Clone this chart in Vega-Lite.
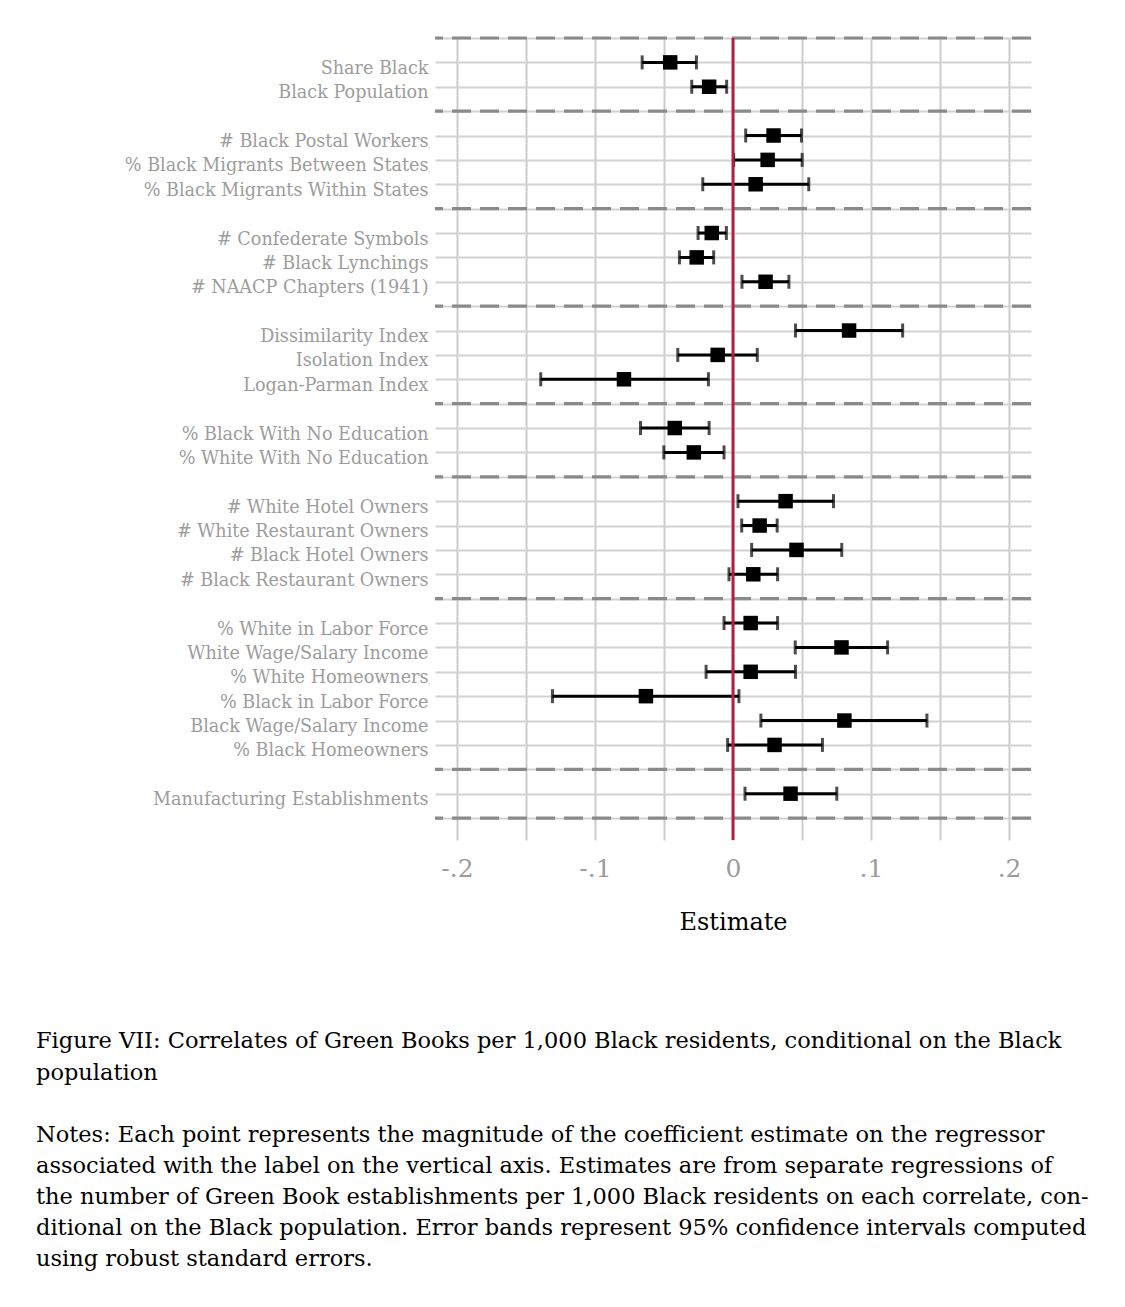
{
  "$schema": "https://vega.github.io/schema/vega-lite/v6.json",
  "width": 596,
  "height": 802,
  "autosize": {"type": "none"},
  "padding": {"left": 435, "top": 38, "right": 94, "bottom": 467},
  "background": "white",
  "config": {
    "view": {"stroke": null},
    "font": "DejaVu Serif",
    "axisY": {"labelOverlap": false, "labelLimit": 420, "labelBound": false, "labelSeparation": -60},
    "axisX": {"labelOverlap": false, "labelBound": false}
  },
  "title": {
    "text": ["Figure VII: Correlates of Green Books per 1,000 Black residents, conditional on the Black", "population"],
    "subtitle": [
      "Notes: Each point represents the magnitude of the coefficient estimate on the regressor",
      "associated with the label on the vertical axis. Estimates are from separate regressions of",
      "the number of Green Book establishments per 1,000 Black residents on each correlate, con-",
      "ditional on the Black population. Error bands represent 95% confidence intervals computed",
      "using robust standard errors."
    ],
    "orient": "bottom",
    "anchor": "start",
    "frame": "group",
    "dx": -399,
    "offset": 96,
    "font": "DejaVu Serif",
    "fontSize": 22.5,
    "fontWeight": "normal",
    "color": "black",
    "lineHeight": 32,
    "subtitleFont": "DejaVu Serif",
    "subtitleFontSize": 22.5,
    "subtitleColor": "black",
    "subtitleLineHeight": 31,
    "subtitlePadding": 39
  },
  "data": {
    "values": [
      {"slot": 1, "label": "Share Black", "est": -0.0455, "lo": -0.0658, "hi": -0.0265},
      {"slot": 2, "label": "Black Population", "est": -0.0173, "lo": -0.0299, "hi": -0.0046},
      {"slot": 4, "label": "# Black Postal Workers", "est": 0.0294, "lo": 0.0092, "hi": 0.0496},
      {"slot": 5, "label": "% Black Migrants Between States", "est": 0.0251, "lo": 0.0005, "hi": 0.0501},
      {"slot": 6, "label": "% Black Migrants Within States", "est": 0.0164, "lo": -0.0219, "hi": 0.0549},
      {"slot": 8, "label": "# Confederate Symbols", "est": -0.0154, "lo": -0.0253, "hi": -0.0048},
      {"slot": 9, "label": "# Black Lynchings", "est": -0.0263, "lo": -0.0388, "hi": -0.014},
      {"slot": 10, "label": "# NAACP Chapters (1941)", "est": 0.0236, "lo": 0.0065, "hi": 0.0405},
      {"slot": 12, "label": "Dissimilarity Index", "est": 0.0841, "lo": 0.0453, "hi": 0.1229},
      {"slot": 13, "label": "Isolation Index", "est": -0.0111, "lo": -0.04, "hi": 0.0176},
      {"slot": 14, "label": "Logan-Parman Index", "est": -0.079, "lo": -0.1393, "hi": -0.0178},
      {"slot": 16, "label": "% Black With No Education", "est": -0.0422, "lo": -0.067, "hi": -0.0173},
      {"slot": 17, "label": "% White With No Education", "est": -0.0284, "lo": -0.0501, "hi": -0.0065},
      {"slot": 19, "label": "# White Hotel Owners", "est": 0.0381, "lo": 0.0036, "hi": 0.0728},
      {"slot": 20, "label": "# White Restaurant Owners", "est": 0.0193, "lo": 0.0063, "hi": 0.032},
      {"slot": 21, "label": "# Black Hotel Owners", "est": 0.046, "lo": 0.0135, "hi": 0.0788},
      {"slot": 22, "label": "# Black Restaurant Owners", "est": 0.0147, "lo": -0.0029, "hi": 0.0323},
      {"slot": 24, "label": "% White in Labor Force", "est": 0.0128, "lo": -0.0065, "hi": 0.0323},
      {"slot": 25, "label": "White Wage/Salary Income", "est": 0.0786, "lo": 0.0451, "hi": 0.112},
      {"slot": 26, "label": "% White Homeowners", "est": 0.0128, "lo": -0.0195, "hi": 0.0453},
      {"slot": 27, "label": "% Black in Labor Force", "est": -0.0631, "lo": -0.1308, "hi": 0.0043},
      {"slot": 28, "label": "Black Wage/Salary Income", "est": 0.0807, "lo": 0.0202, "hi": 0.1405},
      {"slot": 29, "label": "% Black Homeowners", "est": 0.0301, "lo": -0.0039, "hi": 0.0648},
      {"slot": 31, "label": "Manufacturing Establishments", "est": 0.0417, "lo": 0.0087, "hi": 0.0752}
    ]
  },
  "encoding": {
    "y": {
      "field": "slot",
      "type": "quantitative",
      "scale": {"domain": [0, 32.9], "reverse": true, "nice": false, "zero": false},
      "axis": {
        "values": [0,1,2,3,4,5,6,7,8,9,10,11,12,13,14,15,16,17,18,19,20,21,22,23,24,25,26,27,28,29,30,31,32],
        "labelExpr": "['','Share Black','Black Population','','# Black Postal Workers','% Black Migrants Between States','% Black Migrants Within States','','# Confederate Symbols','# Black Lynchings','# NAACP Chapters (1941)','','Dissimilarity Index','Isolation Index','Logan-Parman Index','','% Black With No Education','% White With No Education','','# White Hotel Owners','# White Restaurant Owners','# Black Hotel Owners','# Black Restaurant Owners','','% White in Labor Force','White Wage/Salary Income','% White Homeowners','% Black in Labor Force','Black Wage/Salary Income','% Black Homeowners','','Manufacturing Establishments',''][datum.value]",
        "title": null,
        "domain": false,
        "ticks": false,
        "grid": true,
        "gridColor": "#d2d2d2",
        "gridWidth": 2,
        "labelFont": "DejaVu Serif",
        "labelFontSize": 17.6,
        "labelColor": "#9c9c9c",
        "labelPadding": 7,
        "labelOffset": 6,
        "labelBaseline": "middle",
        "labelOverlap": false,
        "labelSeparation": -60,
        "labelLimit": 420,
        "labelBound": false,
        "labelFlush": false
      }
    }
  },
  "layer": [
    {
      "data": {"values": [{"slot": 0}, {"slot": 3}, {"slot": 7}, {"slot": 11}, {"slot": 15}, {"slot": 18}, {"slot": 23}, {"slot": 30}, {"slot": 32}]},
      "mark": {"type": "rule", "color": "#8a8a8a", "strokeWidth": 3.2, "strokeDash": [19, 9]},
      "encoding": {}
    },
    {
      "mark": {"type": "rule", "color": "black", "strokeWidth": 3},
      "encoding": {
        "x": {
          "field": "lo",
          "type": "quantitative",
          "scale": {"domain": [-0.2159, 0.2159], "nice": false, "zero": false},
          "axis": {
            "values": [-0.2, -0.15, -0.1, -0.05, 0, 0.05, 0.1, 0.15, 0.2],
            "labelExpr": "datum.value == 0 ? '0' : (abs(datum.value) > 0.19 ? (datum.value < 0 ? '-.2' : '.2') : (abs(abs(datum.value) - 0.1) < 0.001 ? (datum.value < 0 ? '-.1' : '.1') : ''))",
            "title": "Estimate",
            "domain": false,
            "ticks": false,
            "grid": true,
            "gridColor": "#cccccc",
            "gridWidth": 2,
            "labelFont": "DejaVu Serif",
            "labelFontSize": 25,
            "labelColor": "#9c9c9c",
            "labelPadding": 16,
            "labelOverlap": false,
            "labelFlush": false,
            "titleFont": "DejaVu Serif",
            "titleFontSize": 24,
            "titleFontWeight": "normal",
            "titleColor": "black",
            "titlePadding": 29
          }
        },
        "x2": {"field": "hi"}
      }
    },
    {
      "mark": {"type": "tick", "orient": "vertical", "color": "black", "size": 14, "thickness": 3},
      "encoding": {
        "x": {"field": "lo", "type": "quantitative"}
      }
    },
    {
      "mark": {"type": "tick", "orient": "vertical", "color": "black", "size": 14, "thickness": 3},
      "encoding": {
        "x": {"field": "hi", "type": "quantitative"}
      }
    },
    {
      "mark": {"type": "point", "shape": "square", "filled": true, "color": "black", "size": 210, "opacity": 1},
      "encoding": {
        "x": {"field": "est", "type": "quantitative"}
      }
    },
    {
      "data": {"values": [{"zero": 0, "top": 0, "bottom": 32.9}]},
      "mark": {"type": "rule", "color": "#b0223e", "strokeWidth": 3},
      "encoding": {
        "x": {"field": "zero", "type": "quantitative"},
        "y": {"field": "top", "type": "quantitative"},
        "y2": {"field": "bottom"}
      }
    }
  ]
}
